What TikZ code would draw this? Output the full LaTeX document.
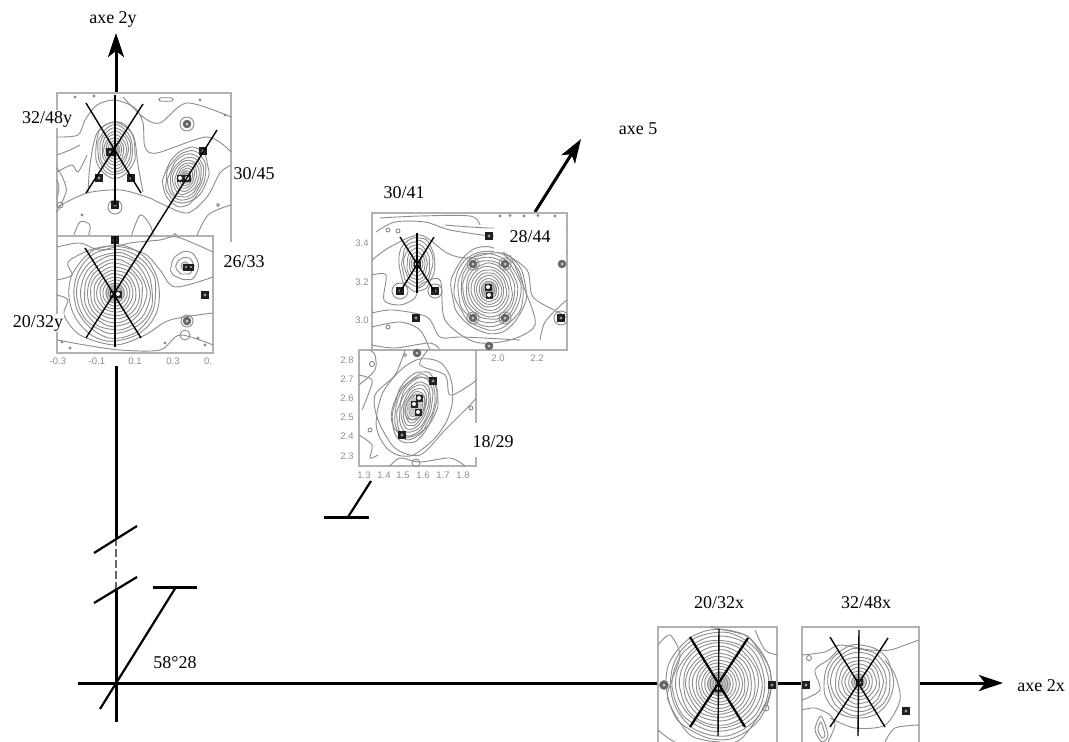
\documentclass[tikz,border=0pt]{standalone}
\usepackage{fontspec}
\setmainfont{Liberation Serif}
\setsansfont{Liberation Sans}
\usepackage{tikz}
\usetikzlibrary{arrows.meta, calc, positioning}

% anneaux de niveau : cx, cy, rx, ry, nombre, inclinaison
\newcommand{\anneaux}[6]{%
	\fill[black!22, rotate around={#6:(#1,#2)}] (#1,#2) ellipse ({0.22*#3} and {0.22*#4});
	\foreach \k in {1,...,#5}{
		\pgfmathsetmacro{\rr}{pow(\k/#5,1.2)}
		\draw[niveau] plot[smooth cycle, domain=0:340, samples=18]
		({#1+\rr*(#3+2.5*rnd)*cos(\x)*cos(#6)-\rr*(#4+2.5*rnd)*sin(\x)*sin(#6)},
		{#2+\rr*(#3+2.5*rnd)*cos(\x)*sin(#6)+\rr*(#4+2.5*rnd)*sin(\x)*cos(#6)});
	}%
}
% point noir du reseau
\newcommand{\pt}[2]{%
	\fill[black!88] ($(#1,#2)+(-4.2,-4.2)$) rectangle ($(#1,#2)+(4.2,4.2)$);
	\fill[black!40] (#1,#2) circle (1.6);
}
\newcommand{\ptgris}[2]{%
	\fill[black!60] (#1,#2) circle (4.3);
	\fill[black!20] (#1,#2) circle (1.5);
}

\begin{document}
\begin{tikzpicture}[
		x=1pt, y=-1pt,
		font=\fontsize{18}{21}\selectfont,
		axe/.style={line width=3pt},
		fl/.style={axe, -{Stealth[length=24pt,width=16pt,inset=6pt]}},
		trait/.style={line width=1.4pt},
		oblique/.style={line width=2.2pt},
		niveau/.style={black!45, line width=0.9pt},
		cadre/.style={rectangle, draw=black!30, line width=1.4pt, fill=white, inner sep=0pt},
		marque/.style={inner sep=0pt},
		masque/.style={marque, fill=white, inner xsep=1pt, inner ysep=1pt},
		grad/.style={font=\sffamily\fontsize{9.5}{10}\selectfont, text=black!45, inner sep=0pt}
		]
		\useasboundingbox (0,0) rectangle (1069,742);
		\pgfmathsetseed{58}
		
		% Axes
		\coordinate (o) at (116,683);
		\coordinate (h1) at (116,93);
		\coordinate (h2) at (116,33);
		\coordinate (b1) at (116,366);
		\coordinate (b2) at (116,538);
		\coordinate (b3) at (116,588);
		\coordinate (b4) at (116,722);
		\coordinate (g) at (78,683);
		\coordinate (dd) at (1003,683);
		\coordinate (c5) at (535,212);
		\coordinate (f5) at (581,139);
		
		\draw[fl] (h1) -- (h2);
		\draw[axe] (b1) -- (b2);
		\draw[black!60, dash pattern=on 8pt off 3pt, line width=1.2pt] (b2) -- (b3);
		\draw[axe] (b3) -- (b4);
		\draw[fl] (c5) -- (f5);
		
		% Coupures
		\coordinate (k1) at (94,553);
		\coordinate (k2) at (137,526);
		\coordinate (k3) at (94,603);
		\coordinate (k4) at (137,577);
		\draw[oblique] (k1) -- (k2);
		\draw[oblique] (k3) -- (k4);
		
		% Angle
		\coordinate (a1) at (100,709);
		\coordinate (a2) at (176,587);
		\coordinate (a3) at (153,587);
		\coordinate (a4) at (197,587);
		\draw[oblique] (a1) -- (a2);
		\draw[axe] (a3) -- (a4);
		
		% Axe 5, pied
		\coordinate (p1) at (324,517);
		\coordinate (p2) at (369,517);
		\coordinate (p3) at (348,517);
		\coordinate (p4) at (371,481);
		\draw[axe] (p1) -- (p2);
		\draw[oblique] (p3) -- (p4);
		
		% Panneau 32/48y et 30/45
		\node[cadre, minimum width=174pt, minimum height=150pt] (pA) at (144,168) {};
		\begin{scope}
			\clip (pA.south west) rectangle (pA.north east);
			\anneaux{115}{150}{19}{27}{10}{0}
			\anneaux{186}{177}{20}{29}{11}{20}
			\anneaux{48}{190}{16}{24}{3}{0}
			\draw[niveau] plot[smooth] coordinates {(57,207) (87,193) (120,190) (147,197) (160,203) (187,213) (207,197) (220,173) (231,165)};
			\draw[niveau] plot[smooth] coordinates {(88,194) (90,165) (97,133) (115,122) (133,135) (138,165) (143,192)};
			\draw[niveau] plot[smooth] coordinates {(57,137) (78,135) (85,120) (97,105) (115,100) (135,108) (143,123) (145,147) (157,153) (207,137) (231,152)};
			\draw[niveau] plot[smooth] coordinates {(123,97) (143,117) (160,123) (187,103) (231,117)};
			\draw[niveau] plot[smooth] coordinates {(57,155) (70,150) (80,145)};
			\draw[niveau] plot[smooth] coordinates {(57,172) (72,165) (78,172) (87,155)};
			\draw[niveau] plot[smooth] coordinates {(72,240) (80,222) (90,225) (88,238)};
			\draw[niveau] plot[smooth] coordinates {(130,240) (140,215) (150,225) (155,240)};
			\draw[niveau] plot[smooth] coordinates {(195,240) (208,215) (231,205)};
			\draw[niveau] (187,124) circle (7);
			\draw[niveau] (115,207) circle (7);
			\draw[niveau] plot[smooth cycle] coordinates {(160,98) (172,98) (172,101) (160,101)};
			\draw[niveau] (60,205) circle (3);
			\draw[niveau] (75,97) circle (1) (94,96) circle (1) (200,100) circle (1) (225,115) circle (1) (218,205) circle (1.5) (82,215) circle (1) (175,235) circle (1.5);
		\end{scope}
		\fill[white] (214,241.5) rectangle (233,246);
		
		% Panneau 20/32y et 26/33
		\node[cadre, minimum width=156pt, minimum height=117pt] (pB) at (135,294.5) {};
		\begin{scope}
			\clip (pB.south west) rectangle (pB.north east);
			\anneaux{115}{293}{44}{47}{15}{0}
			\anneaux{185}{266}{13}{13}{3}{0}
			\draw[niveau] plot[smooth] coordinates {(57,247) (80,243) (100,250) (130,243) (160,240) (177,237) (213,252)};
			\draw[niveau] plot[smooth] coordinates {(57,280) (72,275) (68,262) (90,250) (115,246) (145,254) (160,270) (175,287) (213,277)};
			\draw[niveau] plot[smooth] coordinates {(57,295) (68,300) (64,315) (80,335) (115,345) (145,335) (170,320) (213,313)};
			\draw[niveau] plot[smooth] coordinates {(57,340) (85,345) (120,350) (160,350) (180,335) (213,345)};
			\draw[niveau] (187,321) circle (6);
			\draw[niveau] (185,335) circle (5);
			\draw[niveau] (62,342) circle (1) (70,348) circle (1) (198,338) circle (1) (205,345) circle (1) (165,343) circle (1);
		\end{scope}
		
		% Panneau 30/41 et 28/44
		\node[cadre, minimum width=195pt, minimum height=137pt] (pC) at (469.5,281.5) {};
		\begin{scope}
			\clip (pC.south west) rectangle (pC.north east);
			\anneaux{417}{264}{17}{26}{8}{0}
			\anneaux{489}{290}{36}{42}{15}{-10}
			\draw[niveau] plot[smooth] coordinates {(372,260) (390,247) (420,235) (447,253) (467,258) (500,253) (527,270) (533,297) (560,313) (567,318)};
			\draw[niveau] plot[smooth] coordinates {(376,232) (395,222) (425,222) (450,230) (490,236) (530,240) (567,252)};
			\draw[niveau] plot[smooth] coordinates {(445,225) (490,228) (530,226) (567,232)};
			\draw[niveau] plot[smooth] coordinates {(372,313) (393,310) (427,317) (440,337) (463,337) (520,340)};
			\draw[niveau] plot[smooth] coordinates {(372,327) (400,322) (420,330) (430,350)};
			\draw[niveau] plot[smooth] coordinates {(372,275) (386,275) (384,300) (400,305) (415,298) (420,285) (440,280) (445,320) (475,342) (510,340) (535,325) (525,290) (510,255)};
			\draw[niveau] plot[smooth] coordinates {(372,345) (395,348) (430,343) (440,350)};
			\draw[niveau] plot[smooth] coordinates {(540,340) (545,322) (561,305) (567,300)};
			\draw[niveau] plot[smooth] coordinates {(380,218) (420,216) (470,216) (480,225)};
			\draw[niveau] (561,318) circle (7);
			\draw[niveau] (400,291) circle (8);
			\draw[niveau] (435,291) circle (7);
			\draw[niveau] (473,264) circle (6);
			\draw[niveau] (505,264) circle (6);
			\draw[niveau] (473,318) circle (6);
			\draw[niveau] (505,318) circle (6);
			\draw[niveau] (388,230) circle (2) (398,231) circle (2) (388,327) circle (2);
			\draw[niveau] (500,216) circle (1) (510,215.5) circle (1) (524,216) circle (1) (538,215.5) circle (1) (555,216) circle (1);
		\end{scope}
		\fill[white] (494,219) rectangle (565.5,252);
		
		% Panneau 18/29
		\node[cadre, minimum width=117pt, minimum height=116pt] (pD) at (417.5,408) {};
		\begin{scope}
			\clip (pD.south west) rectangle (pD.north east);
			\anneaux{415}{407}{19}{36}{12}{18}
			\anneaux{415}{407}{33}{50}{3}{25}
			\draw[niveau] plot[smooth] coordinates {(405,350) (395,375) (375,395) (378,420) (395,448) (420,455) (445,430) (470,405) (476,398)};
			\draw[niveau] plot[smooth] coordinates {(428,350) (420,365) (445,375) (450,395) (470,385) (476,380)};
			\draw[niveau] plot[smooth] coordinates {(359,375) (372,380) (368,395) (362,410)};
			\draw[niveau] plot[smooth] coordinates {(359,385) (375,370) (375,355) (370,350)};
			\draw[niveau] plot[smooth] coordinates {(359,435) (372,445) (370,458) (378,455)};
			\draw[niveau] plot[smooth] coordinates {(390,466) (400,458) (420,462) (450,458) (465,466)};
			\draw[niveau] (416,463) circle (4);
			\draw[niveau] (372,364) circle (2.5) (370,430) circle (2) (405,355) circle (1.5) (471,408) circle (2);
		\end{scope}
		\fill[white] (460,423) rectangle (477.5,457);
		
		% Panneau 20/32x
		\node[cadre, minimum width=119pt, minimum height=116pt] (pE) at (717.5,685) {};
		\begin{scope}
			\clip (pE.south west) rectangle (pE.north east);
			\anneaux{719}{684}{52}{54}{18}{0}
			\draw[niveau] plot[smooth] coordinates {(658,645) (670,635) (680,655) (672,680) (668,700) (690,735) (720,742)};
			\draw[niveau] plot[smooth] coordinates {(710,627) (745,635) (755,645) (770,670) (768,700) (745,735) (735,742)};
			\draw[niveau] plot[smooth] coordinates {(755,630) (765,650) (777,655)};
			\draw[niveau] plot[smooth] coordinates {(658,730) (668,738) (675,742)};
			\draw[niveau] (664,685) circle (4.5);
			\draw[niveau] (766,708) circle (3);
		\end{scope}
		
		% Panneau 32/48x
		\node[cadre, minimum width=117pt, minimum height=116pt] (pF) at (860.5,685) {};
		\begin{scope}
			\clip (pF.south west) rectangle (pF.north east);
			\anneaux{859}{682}{34}{36}{11}{0}
			\draw[niveau] plot[smooth] coordinates {(802,655) (825,652) (840,645) (870,650) (890,650) (905,645) (919,640)};
			\draw[niveau] plot[smooth] coordinates {(802,700) (820,690) (815,670) (828,660) (838,650)};
			\draw[niveau] plot[smooth] coordinates {(830,718) (855,728) (885,725) (900,700) (895,675) (885,660)};
			\draw[niveau] plot[smooth] coordinates {(802,710) (815,708) (830,715) (835,725) (828,742)};
			\draw[niveau] plot[smooth] coordinates {(885,742) (895,728) (919,725)};
			\draw[niveau] plot[smooth cycle] coordinates {(821,722) (825,735) (822,738) (818,730)};
			\draw[niveau] plot[smooth cycle] coordinates {(821,716) (828,735) (822,742) (815,730)};
			\draw[niveau] (809,658) circle (2.5);
		\end{scope}
		
		% Axe horizontal, par morceaux
		\draw[axe] (g) -- (g -| pE.west);
		\draw[axe] (g -| pE.east) -- (g -| pF.west);
		\draw[fl] (g -| pF.east) -- (dd);
		
		% Points
		\foreach \a/\b in {110/152,99/178,131/178,115/205,203/151,115/240,205/295,400/291,435/291,416/318,489/236,433/381,402/435,772/685,806/685,906/711,561/318}{
			\pt{\a}{\b}
		}
		\foreach \a/\b in {187/124,187/321,473/264,505/264,473/318,505/318,562/264,489/346,417/353,664/685}{
			\ptgris{\a}{\b}
		}
		% Centres
		\foreach \a/\b in {180/178,187/178,113/294,118/294,417/264,488/287,489/295,414/404,419/398,418/412,718/688,859/682}{
			\fill[black!85] (\a-3.5,\b-3.5) rectangle (\a+3.5,\b+3.5);
			\fill[white] (\a,\b) circle (2);
		}
		\fill[black!88] (183,263.5) rectangle (194,270.5);
		\fill[black!30] (186,267) circle (1.2) (191,267) circle (1.2);
		
		% Traits sur les panneaux
		\draw[trait] (115,95) -- (115,205);
		\draw[trait] (86,103) -- (141,193);
		\draw[trait] (86,193) -- (143,104);
		\draw[trait] (86,338) -- (217,130);
		\draw[trait] (85,248) -- (141,338);
		\draw[trait] (115,236) -- (115,347);
		\draw[trait] (417,233) -- (417,293);
		\draw[trait] (400,237) -- (435,292);
		\draw[trait] (400,292) -- (434,237);
		\draw[trait] (719,629) -- (718,736);
		\draw[oblique] (690,637) -- (745,727);
		\draw[oblique] (690,727) -- (748,638);
		\draw[trait] (859,630) -- (858,736);
		\draw[trait] (830,637) -- (885,727);
		\draw[trait] (830,727) -- (888,638);
		
		% Graduations
		\foreach \a/\b/\t in {58/361/-0.3,97/361/-0.1,135/361/0.1,173/361/0.3,208/361/0.,362/243/3.4,362/282/3.2,362/320/3.0,498/358/2.0,537/358/2.2,347/360/2.8,347/379/2.7,347/398/2.6,347/417/2.5,347/436/2.4,347/456/2.3,364/475/1.3,384/475/1.4,403/475/1.5,423/475/1.6,443/475/1.7,463/475/1.8}{
			\node[grad] (g\a-\b) at (\a,\b) {\t};
		}
		
		% Etiquettes
		\node[marque] (l2y) at (113,19) {axe 2y};
		\node[marque] (l5) at (638,129) {axe 5};
		\node[marque] (l2x) at (1041,686) {axe 2x};
		\node[masque] (l3248y) at (47,119) {32/48y};
		\node[marque] (l3045) at (254,174) {30/45};
		\node[marque] (l2633) at (244,262) {26/33};
		\node[masque] (l2032y) at (38,323) {20/32y};
		\node[marque] (l3041) at (404,193) {30/41};
		\node[marque] (l2844) at (530,237) {28/44};
		\node[marque] (l1829) at (493,442) {18/29};
		\node[marque] (l2032x) at (719,603) {20/32x};
		\node[marque] (l3248x) at (866,603) {32/48x};
		\node[marque] (l5828) at (175,663) {58°28};
	\end{tikzpicture}
\end{document}
